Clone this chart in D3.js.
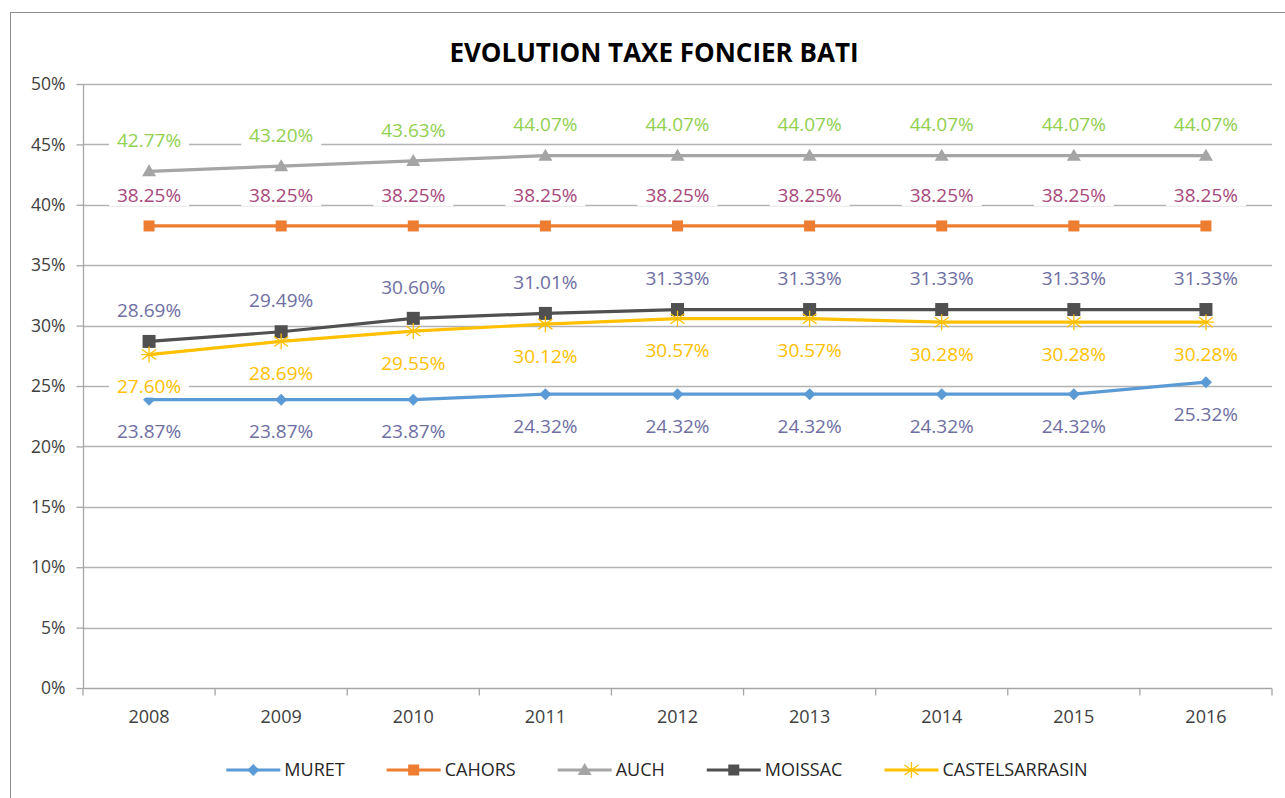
<!DOCTYPE html>
<html>
<head>
<meta charset="utf-8">
<script src="https://d3js.org/d3.v7.min.js"></script>
<style>
  body { margin: 0; background: #fff; }
  text { font-family: "Open Sans", "Noto Sans", sans-serif; }
</style>
</head>
<body>
<div id="chart"></div>
<script>
var years = ["2008", "2009", "2010", "2011", "2012", "2013", "2014", "2015", "2016"];
var muret = [23.87, 23.87, 23.87, 24.32, 24.32, 24.32, 24.32, 24.32, 25.32];
var cahors = [38.25, 38.25, 38.25, 38.25, 38.25, 38.25, 38.25, 38.25, 38.25];
var auch = [42.77, 43.20, 43.63, 44.07, 44.07, 44.07, 44.07, 44.07, 44.07];
var moissac = [28.69, 29.49, 30.60, 31.01, 31.33, 31.33, 31.33, 31.33, 31.33];
var castel = [27.60, 28.69, 29.55, 30.12, 30.57, 30.57, 30.28, 30.28, 30.28];
var yTicks = [0, 5, 10, 15, 20, 25, 30, 35, 40, 45, 50];

var series = [
  {name: "MURET", values: muret, color: "#5B9BD5", labelColor: "#6E6EA3", marker: "diamond", pos: "below"},
  {name: "CAHORS", values: cahors, color: "#ED7D31", labelColor: "#A9487C", marker: "square", pos: "above"},
  {name: "AUCH", values: auch, color: "#A5A5A5", labelColor: "#92D050", marker: "triangle", pos: "above"},
  {name: "MOISSAC", values: moissac, color: "#505050", labelColor: "#6E6EA3", marker: "bigsquare", pos: "above"},
  {name: "CASTELSARRASIN", values: castel, color: "#FFC000", labelColor: "#FFC000", marker: "star", pos: "below"}
];

var W = 1285, H = 798;
var margin = {top: 84, right: 13, bottom: 110, left: 83},
    width = W - margin.left - margin.right,
    height = H - margin.top - margin.bottom;

var svg = d3.select("#chart")
  .append("svg")
    .attr("width", W)
    .attr("height", H);

// chart area border
svg.append("rect")
  .attr("x", 10.5).attr("y", 12.5)
  .attr("width", W + 20).attr("height", H + 20)
  .attr("fill", "none")
  .attr("stroke", "#8c8c8c")
  .attr("stroke-width", 1);

svg.append("text")
  .attr("x", 654)
  .attr("y", 62)
  .attr("text-anchor", "middle")
  .style("font-size", "26px")
  .style("font-weight", "bold")
  .attr("fill", "#000")
  .text("EVOLUTION TAXE FONCIER BATI");

var g = svg.append("g")
  .attr("transform", "translate(" + margin.left + "," + margin.top + ")");

var x = d3.scaleBand().domain(years).range([0, width]);
var cx = function(i) { return x(years[i]) + x.bandwidth() / 2; };
var y = d3.scaleLinear().domain([0, 50]).range([height, 0]);

// gridlines
g.append("g")
  .selectAll("line")
  .data(yTicks.filter(function(d) { return d > 0; }))
  .enter().append("line")
    .attr("x1", 0).attr("x2", width)
    .attr("y1", function(d) { return Math.round(y(d)) + 0.5; })
    .attr("y2", function(d) { return Math.round(y(d)) + 0.5; })
    .attr("stroke", "#B3B3B3")
    .attr("stroke-width", 1.3);

// Y axis
var yAxis = g.append("g")
  .attr("transform", "translate(0.5,0)")
  .call(d3.axisLeft(y).tickValues(yTicks).tickSize(7).tickPadding(11)
    .tickFormat(function(d) { return d + "%"; }));
yAxis.selectAll("line").attr("stroke", "#A6A6A6").attr("stroke-width", 1.3);
yAxis.select(".domain").attr("stroke", "#A6A6A6").attr("stroke-width", 1.3).attr("d", "M0," + y(50) + "V" + height);
yAxis.selectAll("text").style("font-size", "17.5px").attr("fill", "#404040").style("font-family", "'Open Sans', sans-serif");

// X axis
var xAxisG = g.append("g")
  .attr("transform", "translate(0," + (Math.round(height) + 0.5) + ")");
xAxisG.append("line")
  .attr("x1", 0).attr("x2", width)
  .attr("stroke", "#A6A6A6").attr("stroke-width", 1.3);
xAxisG.selectAll(".tk")
  .data(d3.range(years.length + 1))
  .enter().append("line")
    .attr("class", "tk")
    .attr("x1", function(i) { return i * x.bandwidth(); })
    .attr("x2", function(i) { return i * x.bandwidth(); })
    .attr("y1", 0).attr("y2", 7)
    .attr("stroke", "#A6A6A6").attr("stroke-width", 1.3);
xAxisG.selectAll(".yl")
  .data(years)
  .enter().append("text")
    .attr("class", "yl")
    .attr("x", function(d, i) { return cx(i); })
    .attr("y", 34)
    .attr("text-anchor", "middle")
    .attr("fill", "#404040")
    .style("font-size", "18px")
    .text(function(d) { return d; });

function drawMarker(sel, type, color) {
  if (type == "diamond") {
    sel.append("path").attr("d", "M0,-6L6,0L0,6L-6,0Z").attr("fill", color);
  } else if (type == "square") {
    sel.append("rect").attr("x", -5.5).attr("y", -5.5).attr("width", 11).attr("height", 11).attr("fill", color);
  } else if (type == "bigsquare") {
    sel.append("rect").attr("x", -6.5).attr("y", -6.5).attr("width", 13).attr("height", 13).attr("fill", color);
  } else if (type == "triangle") {
    sel.append("path").attr("d", "M0,-7L7,5L-7,5Z").attr("fill", color);
  } else if (type == "star") {
    sel.append("path")
      .attr("d", "M0,-8V8M-7,-5L7,5M-7,5L7,-5M-8,0H8")
      .attr("stroke", color).attr("stroke-width", 1.3).attr("fill", "none");
  }
}

var line = d3.line()
  .x(function(d, i) { return cx(i); })
  .y(function(d) { return y(d); });

// lines + markers
series.forEach(function(s) {
  g.append("path")
    .datum(s.values)
    .attr("d", line)
    .attr("fill", "none")
    .attr("stroke", s.color)
    .attr("stroke-width", 3.2)
    .attr("stroke-linejoin", "round");
  g.append("g").selectAll("g")
    .data(s.values)
    .enter().append("g")
      .attr("transform", function(d, i) { return "translate(" + cx(i) + "," + y(d) + ")"; })
      .each(function() { drawMarker(d3.select(this), s.marker, s.color); });
});

// data labels with white boxes
series.forEach(function(s) {
  var lab = g.append("g").selectAll("g")
    .data(s.values)
    .enter().append("g")
      .attr("transform", function(d, i) {
        var off = s.pos == "above" ? -31 : 32;
        return "translate(" + cx(i) + "," + (y(d) + off) + ")";
      });
  lab.append("rect")
    .attr("x", -40).attr("y", -11)
    .attr("width", 80).attr("height", 22)
    .attr("fill", "#fff");
  lab.append("text")
    .attr("text-anchor", "middle")
    .attr("dy", "0.35em")
    .attr("fill", s.labelColor)
    .style("font-size", "19px")
    .text(function(d) { return d.toFixed(2) + "%"; });
});

// legend, centred under the chart
var legend = svg.append("g").attr("transform", "translate(0,770)");
var lx = 0;
series.forEach(function(s) {
  var it = legend.append("g").attr("transform", "translate(" + lx + ",0)");
  it.append("line")
    .attr("x1", 0).attr("x2", 54)
    .attr("stroke", s.color).attr("stroke-width", 3.2);
  var m = it.append("g").attr("transform", "translate(27,0)");
  drawMarker(m, s.marker == "bigsquare" ? "square" : s.marker, s.color);
  var t = it.append("text")
    .attr("x", 58)
    .attr("dy", "0.35em")
    .attr("fill", "#262626")
    .style("font-size", "18px")
    .text(s.name);
  lx += 58 + t.node().getComputedTextLength() + (s.name == "CASTELSARRASIN" ? 0 : 42);
});
legend.attr("transform", "translate(" + (657 - lx / 2) + ",770)");
</script>
</body>
</html>
